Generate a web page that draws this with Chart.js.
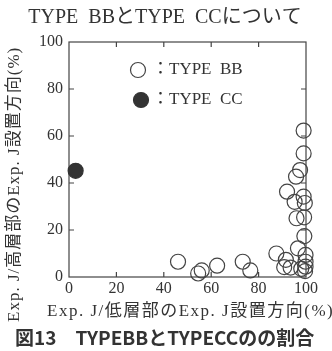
<!DOCTYPE html>
<html><head><meta charset="utf-8">
<script src="https://cdn.jsdelivr.net/npm/chart.js@4"></script>
<style>html,body{margin:0;padding:0;background:#fff}</style>
</head><body>
<canvas id="c" width="332" height="351"></canvas>
<script>
const chartTitle = "TYPE  BBとTYPE  CCについて";
const xTitle = "Exp. J/低層部のExp. J設置方向(%)";
const yTitle = "Exp. J/高層部のExp. J設置方向(%)";
const caption = "図13　TYPEBBとTYPECCのの割合";
const legendLabels = ["：TYPE  BB", "：TYPE  CC"];

// TYPE BB (open circles)
const bbX = [46, 54.5, 56, 62.5, 73.3, 76.5, 87.5, 91.5, 90.8, 93.5, 96.6, 99.3, 96, 99.2, 95.2, 99.5, 99, 92, 95.8, 97.5, 99, 99, 99.8, 99.8, 99.8, 98, 99.6];
const bbY = [6.5, 1.5, 2.8, 4.8, 6.5, 2.8, 10, 7.3, 4.2, 4, 12.2, 17.4, 25, 25.4, 32, 31.5, 34.2, 36.3, 42.7, 45.5, 52.6, 62.3, 9.4, 6.5, 4.4, 3.5, 2.5];
// TYPE CC (filled circle)
const ccX = [2.8];
const ccY = [45.2];

const axisMin = 0, axisMax = 100, axisStep = 20;

const ink = '#333';
const lineInk = '#444';
const serif = '"Liberation Serif", "Noto Sans CJK JP", serif';

const toPts = (xs, ys) => xs.map((x, i) => ({x: x, y: ys[i]}));

const decor = {
  id: 'decor',
  beforeDatasetsDraw(chart) {
    const {ctx, chartArea: a, scales} = chart;
    ctx.save();
    ctx.strokeStyle = lineInk;
    ctx.lineWidth = 1.2;
    ctx.strokeRect(a.left, a.top, a.right - a.left, a.bottom - a.top);
    const tl = 5;
    ctx.beginPath();
    scales.x.ticks.forEach(t => {
      if (t.value <= axisMin || t.value >= axisMax) return;
      const px = scales.x.getPixelForValue(t.value);
      ctx.moveTo(px, a.bottom); ctx.lineTo(px, a.bottom - tl);
      ctx.moveTo(px, a.top); ctx.lineTo(px, a.top + tl);
    });
    scales.y.ticks.forEach(t => {
      if (t.value <= axisMin || t.value >= axisMax) return;
      const py = scales.y.getPixelForValue(t.value);
      ctx.moveTo(a.left, py); ctx.lineTo(a.left + tl, py);
      ctx.moveTo(a.right, py); ctx.lineTo(a.right - tl, py);
    });
    ctx.stroke();
    ctx.restore();
  },
  afterDraw(chart) {
    const {ctx} = chart;
    ctx.save();
    ctx.fillStyle = ink;
    // title
    ctx.font = '20px ' + serif;
    ctx.textAlign = 'center';
    ctx.textBaseline = 'middle';
    ctx.fillText(chartTitle, 165, 18);
    // legend
    const ds = chart.data.datasets;
    const lx = 138, ly = [70, 100];
    ds.forEach((d, i) => {
      ctx.beginPath();
      ctx.arc(lx + i * 3, ly[i], 7.5, 0, Math.PI * 2);
      ctx.lineWidth = d.borderWidth;
      ctx.strokeStyle = d.borderColor;
      if (d.backgroundColor !== 'rgba(0,0,0,0)') { ctx.fillStyle = d.backgroundColor; ctx.fill(); }
      ctx.stroke();
      ctx.fillStyle = ink;
      ctx.font = '17px ' + serif;
      ctx.textAlign = 'left';
      ctx.textBaseline = 'middle';
      ctx.fillText(legendLabels[i], lx + 14, ly[i]);
    });
    // x axis title
    ctx.font = '17px ' + serif;
    ctx.letterSpacing = '1.5px';
    ctx.textAlign = 'left';
    ctx.textBaseline = 'middle';
    ctx.fillText(xTitle, 47, 312);
    // y axis title
    ctx.save();
    ctx.translate(15, 322);
    ctx.rotate(-Math.PI / 2);
    ctx.letterSpacing = '1px';
    ctx.fillText(yTitle, 0, 0);
    ctx.restore();
    ctx.letterSpacing = '0px';
    // caption
    ctx.font = 'bold 19px "Noto Sans CJK JP", sans-serif';
    ctx.textAlign = 'left';
    ctx.fillText(caption, 15, 338);
    ctx.restore();
  }
};

new Chart(document.getElementById('c'), {
  type: 'scatter',
  data: {
    datasets: [
      {label: 'TYPE BB', data: toPts(bbX, bbY), pointRadius: 7.5, pointHoverRadius: 7.5,
       backgroundColor: 'rgba(0,0,0,0)', borderColor: lineInk, borderWidth: 1.2, clip: false},
      {label: 'TYPE CC', data: toPts(ccX, ccY), pointRadius: 7.5, pointHoverRadius: 7.5,
       backgroundColor: '#333', borderColor: '#333', borderWidth: 1.2, clip: false}
    ]
  },
  options: {
    responsive: false,
    devicePixelRatio: 1,
    animation: false,
    layout: {padding: {left: 0, right: 26, top: 42, bottom: 0}},
    plugins: {legend: {display: false}, title: {display: false}, tooltip: {enabled: false}},
    scales: {
      x: {
        type: 'linear', min: axisMin, max: axisMax,
        grid: {display: false, drawTicks: false},
        border: {display: false},
        ticks: {stepSize: axisStep, color: ink, font: {family: serif, size: 16}, padding: 2, maxRotation: 0},
        afterFit: s => { s.height = 74; }
      },
      y: {
        type: 'linear', min: axisMin, max: axisMax,
        grid: {display: false, drawTicks: false},
        border: {display: false},
        ticks: {stepSize: axisStep, color: ink, font: {family: serif, size: 16}, padding: 6},
        afterFit: s => { s.width = 69; }
      }
    }
  },
  plugins: [decor]
});
</script>
</body></html>
